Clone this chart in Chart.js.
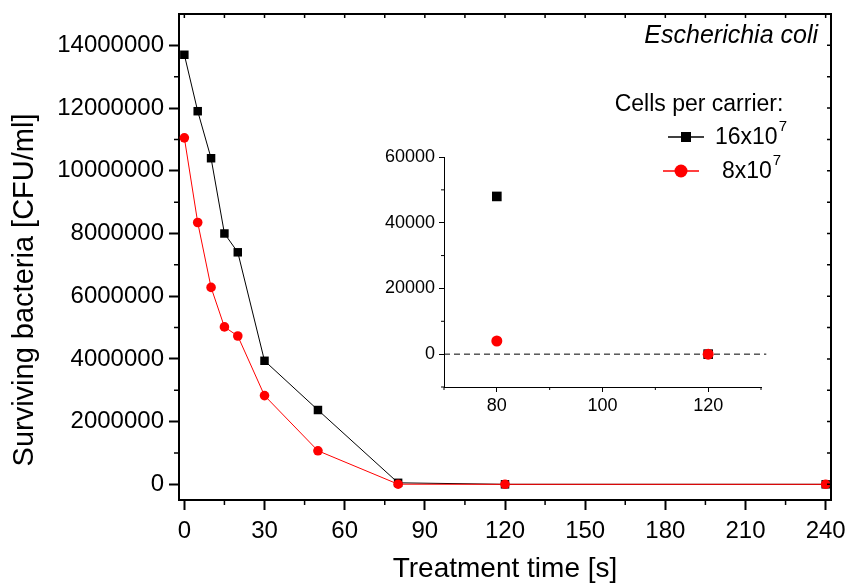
<!DOCTYPE html>
<html>
<head>
<meta charset="utf-8">
<script src="https://cdn.jsdelivr.net/npm/chart.js@4.4.1/dist/chart.umd.min.js"></script>
<style>
  body { margin: 0; background: #fff; }
  #wrap { position: relative; width: 846px; height: 583px; }
  #mainChart { position: absolute; left: 0; top: 0; }
  #insetChart { position: absolute; left: 370px; top: 140px; }
</style>
</head>
<body>
<div id="wrap">
  <canvas id="mainChart" width="846" height="583"></canvas>
  <canvas id="insetChart" width="410" height="280"></canvas>
</div>
<script>
// data
const timeS = [0, 5, 10, 15, 20, 30, 50, 80, 120, 240];
const cells16 = [13700000, 11900000, 10400000, 8000000, 7400000, 3940000, 2370000, 48000, 0, 0];
const cells8 = [11050000, 8350000, 6280000, 5020000, 4730000, 2830000, 1070000, 4000, 0, 0];

const xTicks = [0, 30, 60, 90, 120, 150, 180, 210, 240];
const yTicks = [0, 2000000, 4000000, 6000000, 8000000, 10000000, 12000000, 14000000];

// inset (zoom on 80..120 s)
const insetTime = [80, 120];
const inset16 = [48000, 0];
const inset8 = [4000, 0];
const insetXTicks = [80, 100, 120];
const insetYTicks = [0, 20000, 40000, 60000];

const FONT = 'Liberation Sans, Arial, sans-serif';
Chart.defaults.font.family = FONT;
Chart.defaults.color = '#000';

function toPoints(xs, ys) {
    return xs.map((x, i) => ({ x: x, y: ys[i] }));
}

function range(from, to, step) {
    const out = [];
    for (let v = from; v <= to + 1e-9; v += step) out.push(v);
    return out;
}

// minor ticks + mirrored ticks on top/right, the box, legend and species name
const mainDecor = {
    id: 'mainDecor',
    afterDraw(chart) {
        const ctx = chart.ctx;
        const xs = chart.scales.x, ys = chart.scales.y;
        const a = chart.chartArea;
        ctx.save();
        ctx.strokeStyle = '#000';
        ctx.lineWidth = 2;
        ctx.beginPath();
        ctx.moveTo(a.left - 1, a.top);
        ctx.lineTo(a.right, a.top);
        ctx.lineTo(a.right, a.bottom + 1);
        ctx.stroke();

        ctx.lineWidth = 1.5;
        ctx.beginPath();
        range(15, 225, 30).forEach(v => {
            const px = xs.getPixelForValue(v);
            ctx.moveTo(px, a.bottom); ctx.lineTo(px, a.bottom + 5);
        });
        range(0, 240, 15).forEach(v => {
            const px = xs.getPixelForValue(v);
            ctx.moveTo(px, a.top); ctx.lineTo(px, a.top + 4);
        });
        range(1000000, 13000000, 2000000).forEach(v => {
            const py = ys.getPixelForValue(v);
            ctx.moveTo(a.left, py); ctx.lineTo(a.left - 5, py);
        });
        range(0, 14000000, 1000000).forEach(v => {
            const py = ys.getPixelForValue(v);
            ctx.moveTo(a.right, py); ctx.lineTo(a.right - 4, py);
        });
        ctx.stroke();

        // y axis title
        ctx.save();
        ctx.translate(25, 290);
        ctx.rotate(-Math.PI / 2);
        ctx.font = '29px ' + FONT;
        ctx.textAlign = 'center';
        ctx.textBaseline = 'middle';
        ctx.fillStyle = '#000';
        ctx.fillText('Surviving bacteria [CFU/ml]', 0, 0);
        ctx.restore();

        // species
        ctx.fillStyle = '#000';
        ctx.font = 'italic 25px ' + FONT;
        ctx.textAlign = 'right';
        ctx.textBaseline = 'middle';
        ctx.fillText('Escherichia coli', 818, 36);

        // legend
        ctx.font = '23px ' + FONT;
        ctx.textAlign = 'center';
        ctx.fillText('Cells per carrier:', 699, 105);

        const rows = [
            { ds: chart.data.datasets[0], y: 137, x0: 668, x1: 704, tx: 715, label: '16x10' },
            { ds: chart.data.datasets[1], y: 171, x0: 663, x1: 699, tx: 722, label: '8x10' }
        ];
        rows.forEach(r => {
            ctx.strokeStyle = r.ds.borderColor;
            ctx.lineWidth = 1.5;
            ctx.beginPath();
            ctx.moveTo(r.x0, r.y); ctx.lineTo(r.x1, r.y);
            ctx.stroke();
            ctx.fillStyle = r.ds.pointBackgroundColor;
            ctx.beginPath();
            if (r.ds.pointStyle === 'rect') {
                ctx.rect((r.x0 + r.x1) / 2 - 5, r.y - 5, 10, 10);
            } else {
                ctx.arc((r.x0 + r.x1) / 2, r.y, 6.5, 0, Math.PI * 2);
            }
            ctx.fill();
            ctx.fillStyle = '#000';
            ctx.font = '23px ' + FONT;
            ctx.textAlign = 'left';
            ctx.textBaseline = 'middle';
            ctx.fillText(r.label, r.tx, r.y + 1);
            const w = ctx.measureText(r.label).width;
            ctx.font = '15px ' + FONT;
            ctx.fillText('7', r.tx + w + 1, r.y - 10);
        });
        ctx.restore();
    }
};

const insetDecor = {
    id: 'insetDecor',
    afterDraw(chart) {
        const ctx = chart.ctx;
        const xs = chart.scales.x, ys = chart.scales.y;
        const a = chart.chartArea;
        ctx.save();
        ctx.strokeStyle = '#000';
        ctx.lineWidth = 1;
        ctx.beginPath();
        [70, 90, 110, 130].forEach(v => {
            const px = xs.getPixelForValue(v);
            ctx.moveTo(px, a.bottom); ctx.lineTo(px, a.bottom + 3);
        });
        [-10000, 10000, 30000, 50000].forEach(v => {
            const py = ys.getPixelForValue(v);
            ctx.moveTo(a.left, py); ctx.lineTo(a.left - 3, py);
        });
        ctx.stroke();
        ctx.restore();
    }
};

function fixX(height) {
    return s => {
        s.height = height;
        s.paddingLeft = 0;
        s.paddingRight = 0;
    };
}

function fixY(width) {
    return s => {
        s.width = width;
        s.paddingTop = 0;
        s.paddingBottom = 0;
    };
}

const mainConfig = {
    type: 'line',
    data: {
        datasets: [
            {
                label: '16x10^7',
                data: toPoints(timeS, cells16),
                borderColor: '#000',
                backgroundColor: '#000',
                pointBackgroundColor: '#000',
                pointBorderColor: '#000',
                pointStyle: 'rect',
                pointRadius: 6,
                pointBorderWidth: 0,
                borderWidth: 1,
                tension: 0,
                order: 2
            },
            {
                label: '8x10^7',
                data: toPoints(timeS, cells8),
                borderColor: '#ff0000',
                backgroundColor: '#ff0000',
                pointBackgroundColor: '#ff0000',
                pointBorderColor: '#ff0000',
                pointStyle: 'circle',
                pointRadius: 4.8,
                pointBorderWidth: 0,
                borderWidth: 1,
                tension: 0,
                order: 1
            }
        ]
    },
    options: {
        responsive: false,
        animation: false,
        events: [],
        layout: { padding: { top: 14, right: 15, left: 0, bottom: 0 } },
        plugins: { legend: { display: false }, tooltip: { enabled: false } },
        scales: {
            x: {
                type: 'linear',
                min: -2,
                max: 242,
                afterBuildTicks: s => { s.ticks = xTicks.map(v => ({ value: v })); },
                afterFit: fixX(83),
                ticks: { autoSkip: false, maxRotation: 0, padding: 7, font: { size: 24 } },
                grid: { drawOnChartArea: false, tickLength: 10, tickWidth: 2, tickColor: '#000' },
                border: { color: '#000', width: 2 },
                title: { display: true, text: 'Treatment time [s]', font: { size: 28, lineHeight: 1 }, padding: 0 }
            },
            y: {
                type: 'linear',
                min: -500000,
                max: 15000000,
                afterBuildTicks: s => { s.ticks = yTicks.map(v => ({ value: v })); },
                afterFit: fixY(179),
                ticks: { autoSkip: false, padding: 5, font: { size: 24 }, callback: v => String(v) },
                grid: { drawOnChartArea: false, tickLength: 10, tickWidth: 2, tickColor: '#000' },
                border: { color: '#000', width: 2 }
            }
        }
    },
    plugins: [mainDecor]
};

const insetConfig = {
    type: 'line',
    data: {
        datasets: [
            {
                data: [{ x: 70, y: 0 }, { x: 131, y: 0 }],
                borderColor: '#000',
                borderWidth: 1,
                borderDash: [6, 4],
                pointRadius: 0,
                clip: false,
                order: 3
            },
            {
                data: toPoints(insetTime, inset16),
                showLine: false,
                pointStyle: 'rect',
                pointRadius: 6.8,
                pointBackgroundColor: '#000',
                pointBorderWidth: 0,
                order: 2
            },
            {
                data: toPoints(insetTime, inset8),
                showLine: false,
                pointStyle: 'circle',
                pointRadius: 5.5,
                pointBackgroundColor: '#ff0000',
                pointBorderWidth: 0,
                order: 1
            }
        ]
    },
    options: {
        responsive: false,
        animation: false,
        events: [],
        layout: { padding: { top: 17, right: 19, left: 0, bottom: 0 } },
        plugins: { legend: { display: false }, tooltip: { enabled: false } },
        scales: {
            x: {
                type: 'linear',
                min: 70,
                max: 130,
                afterBuildTicks: s => { s.ticks = insetXTicks.map(v => ({ value: v })); },
                afterFit: fixX(33),
                ticks: { autoSkip: false, maxRotation: 0, padding: 3, font: { size: 18 } },
                grid: { drawOnChartArea: false, tickLength: 5, tickWidth: 1, tickColor: '#000' },
                border: { color: '#000', width: 1 }
            },
            y: {
                type: 'linear',
                min: -10000,
                max: 60000,
                afterBuildTicks: s => { s.ticks = insetYTicks.map(v => ({ value: v })); },
                afterFit: fixY(74),
                ticks: { autoSkip: false, padding: 4, font: { size: 18 }, callback: v => String(v) },
                grid: { drawOnChartArea: false, tickLength: 5, tickWidth: 1, tickColor: '#000' },
                border: { color: '#000', width: 1 }
            }
        }
    },
    plugins: [insetDecor]
};

new Chart(document.getElementById('mainChart'), mainConfig);
new Chart(document.getElementById('insetChart'), insetConfig);
</script>
</body>
</html>
